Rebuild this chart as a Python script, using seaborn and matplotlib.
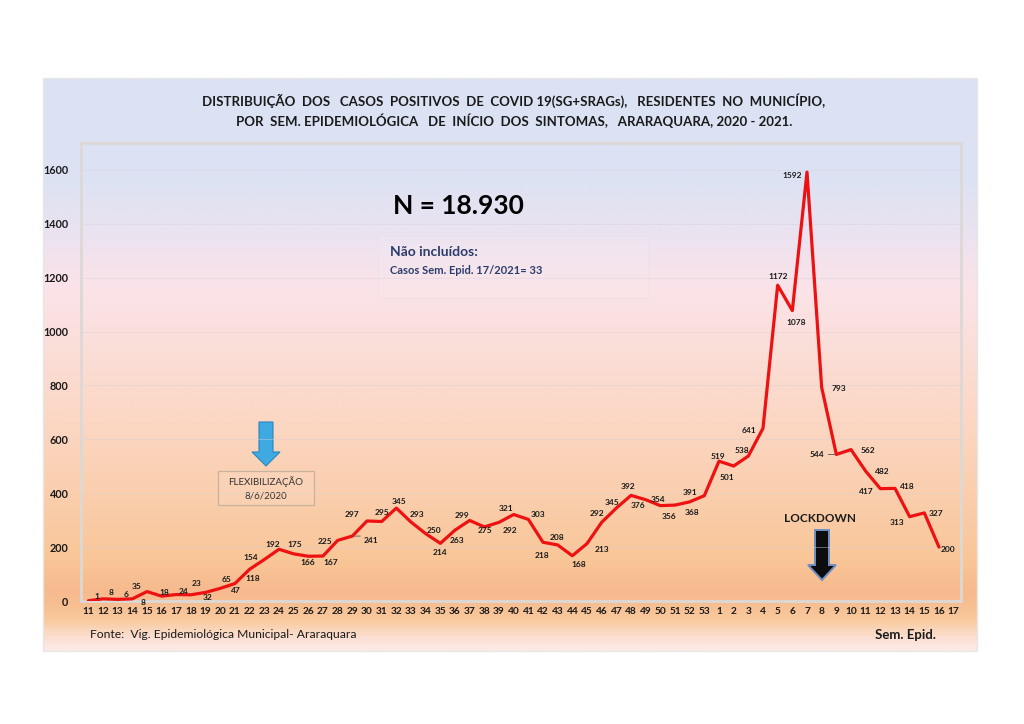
import numpy as np
import pandas as pd
import matplotlib
matplotlib.use("Agg")
import matplotlib.pyplot as plt
import seaborn as sns
from matplotlib.colors import LinearSegmentedColormap
from matplotlib.patches import Polygon, Rectangle

# ---------------- data ----------------
week_labels = [str(w) for w in range(11, 54)] + [str(w) for w in range(1, 18)]
cases = [1, 8, 6, 8, 35, 18, 24, 23, 32, 47, 65, 118, 154, 192, 175, 166, 167,
         225, 241, 297, 295, 345, 293, 250, 214, 263, 299, 275, 292, 321, 303,
         218, 208, 168, 213, 292, 345, 392, 376, 354, 356, 368, 391,
         519, 501, 538, 641, 1172, 1078, 1592, 793, 544, 562, 482, 417, 418,
         313, 327, 200]
y_ticks = [0, 200, 400, 600, 800, 1000, 1200, 1400, 1600]

title = ("DISTRIBUIÇÃO  DOS   CASOS  POSITIVOS  DE  COVID 19(SG+SRAGs),   RESIDENTES  NO  MUNICÍPIO,\n"
         "POR  SEM. EPIDEMIOLÓGICA   DE  INÍCIO  DOS  SINTOMAS,   ARARAQUARA, 2020 - 2021.")

# label offsets in pixels (style only)
label_offsets = [(9, -4), (8, -6), (8, -5), (11, 4), (-10, -5), (3, -4), (7, -3), (6, -11),
                 (2, 5), (15, 2), (-8, -4), (3, 9), (-14, -2), (-6, -5), (1, -9), (-1, 6),
                 (8, 6), (-13, 1), (19, 4), (-15, -6), (0, -9), (3, -7), (6, -8), (8, -3),
                 (0, 9), (2, 10), (-8, -5), (1, 4), (11, 8), (-8, -6), (10, -5), (-1, 13),
                 (-1, -7), (6, 9), (15, 6), (-5, -9), (-4, -6), (-3, -9), (-8, 6), (-2, -6),
                 (-6, 11), (2, 11), (-14, -3), (-1, -5), (-7, 11), (-6, -6), (-14, 2),
                 (1, -9), (4, 12), (-15, 3), (17, 1), (-19, 0), (17, 1), (17, 0), (-14, 3),
                 (12, -2), (-13, 6), (12, 1), (9, 2)]
leader_idx = [18, 51]  # labels drawn with a short leader line

W, H = 1024, 724
fig = plt.figure(figsize=(W / 100, H / 100), dpi=100)
sns.set_style("white")
plt.rcParams['font.family'] = ['Lato', 'DejaVu Sans']

# ---------------- background panel (pixel coords) ----------------
bg = fig.add_axes([0, 0, 1, 1])
bg.set_xlim(0, W)
bg.set_ylim(H, 0)
bg.axis("off")
stops = [(78, (219, 227, 243)), (180, (221, 226, 243)), (235, (236, 226, 240)),
         (285, (250, 227, 233)), (350, (251, 222, 216)), (420, (251, 215, 196)),
         (500, (250, 206, 172)), (560, (249, 198, 152)), (592, (246, 186, 142)),
         (605, (247, 190, 145)), (622, (249, 202, 158)), (640, (252, 224, 212)),
         (651, (253, 233, 229))]
y0, y1 = stops[0][0], stops[-1][0]
cmap = LinearSegmentedColormap.from_list(
    "panel", [((p - y0) / (y1 - y0), tuple(c / 255 for c in col)) for p, col in stops])
grad = np.linspace(0, 1, 400).reshape(-1, 1)
bg.imshow(grad, cmap=cmap, aspect="auto", extent=(43, 977, y1, y0), zorder=0)
bg.add_patch(Rectangle((43, 78), 934, 573, fill=False, edgecolor=(0.9, 0.9, 0.9), lw=1))

# info box (barely visible)
bg.add_patch(Rectangle((378, 235), 270, 63, facecolor=(1, 1, 1, 0.08),
                       edgecolor=(0.88, 0.85, 0.88, 0.25), lw=0.6, zorder=1))

# blue arrow (flexibilizacao)
bg.add_patch(Polygon([(259, 422), (273, 422), (273, 452), (280, 452), (266, 466),
                      (252, 452), (259, 452)], closed=True,
                     facecolor="#3fa9e2", edgecolor="#2b86c0", lw=0.8, zorder=2))
bg.add_patch(Rectangle((218, 471), 96, 34, facecolor=(1, 1, 1, 0.08),
                       edgecolor="#c9b29c", lw=0.9, zorder=2))
bg.text(266, 482, "FLEXIBILIZAÇÃO", ha="center", va="center", fontsize=7, color="#333333")
bg.text(266, 496, "8/6/2020", ha="center", va="center", fontsize=7, color="#333333")

# black arrow (lockdown)
bg.add_patch(Polygon([(815, 530), (829, 530), (829, 565), (836, 565), (822, 580),
                      (808, 565), (815, 565)], closed=True,
                     facecolor="#0d0d0d", edgecolor="#6f8fc4", lw=1.4, zorder=2))
bg.text(820, 518, "LOCKDOWN", ha="center", va="center", fontsize=8.5,
        fontweight="bold", color="#1a1a1a")

# texts
bg.text(514, 111, title, ha="center", va="center", fontsize=9.5, fontweight="bold",
        color="#1a1a1a", linespacing=1.45)
bg.text(458, 206, "N = 18.930", ha="center", va="center", fontsize=19,
        fontweight="bold", color="#000000")
bg.text(390, 252, "Não incluídos:", ha="left", va="center", fontsize=10,
        fontweight="bold", color="#2c3d6b")
bg.text(390, 271, "Casos Sem. Epid. 17/2021= 33", ha="left", va="center", fontsize=8,
        fontweight="bold", color="#2c3d6b")
bg.text(90, 634, "Fonte:  Vig. Epidemiológica Municipal- Araraquara", ha="left",
        va="center", fontsize=8.7, color="#1a1a1a")
bg.text(936, 635, "Sem. Epid.", ha="right", va="center", fontsize=9.5,
        fontweight="bold", color="#1a1a1a")

# ---------------- main chart ----------------
ax = fig.add_axes([81 / W, 1 - 601 / H, (961 - 81) / W, (601 - 143) / H])
ax.set_facecolor("none")
df = pd.DataFrame({"pos": np.arange(len(cases)), "casos": cases})
sns.lineplot(data=df, x="pos", y="casos", ax=ax, color="#ee1111", lw=2.3, zorder=3)
ax.set_xlim(-0.5, len(week_labels) - 0.5)
ax.set_ylim(0, 1700)
ax.set_xticks(np.arange(len(week_labels)))
ax.set_xticklabels(week_labels, fontsize=7.3, fontweight="bold", color="#1a1a1a")
ax.set_yticks(y_ticks)
ax.set_yticklabels([str(v) for v in y_ticks], fontsize=7.8, fontweight="bold",
                   color="#1a1a1a")
ax.tick_params(axis="x", length=0, pad=4)
ax.tick_params(axis="y", length=0, pad=9)
ax.set_xlabel("")
ax.set_ylabel("")
for yv in y_ticks[1:]:
    ax.axhline(yv, color=(0.84, 0.82, 0.84), lw=0.7, alpha=0.45, zorder=1)
for s in ax.spines.values():
    s.set_visible(True)
    s.set_color("#dcd8d6")
    s.set_linewidth(2)

for i, (v, (dx, dy)) in enumerate(zip(cases, label_offsets)):
    ax.annotate(str(v), (i, v), xytext=(dx, -dy), textcoords="offset pixels",
                ha="center", va="center", fontsize=6.0, fontweight="bold",
                color="#1a1a1a", zorder=4)
    if i in leader_idx:
        sgn = 1 if dx > 0 else -1
        ax.annotate("", (i, v), xytext=(sgn * 8, 0), textcoords="offset pixels",
                    arrowprops=dict(arrowstyle="-", color="#555555", lw=0.6,
                                    shrinkA=0, shrinkB=1), zorder=4)

fig.savefig("out.png", dpi=100)
